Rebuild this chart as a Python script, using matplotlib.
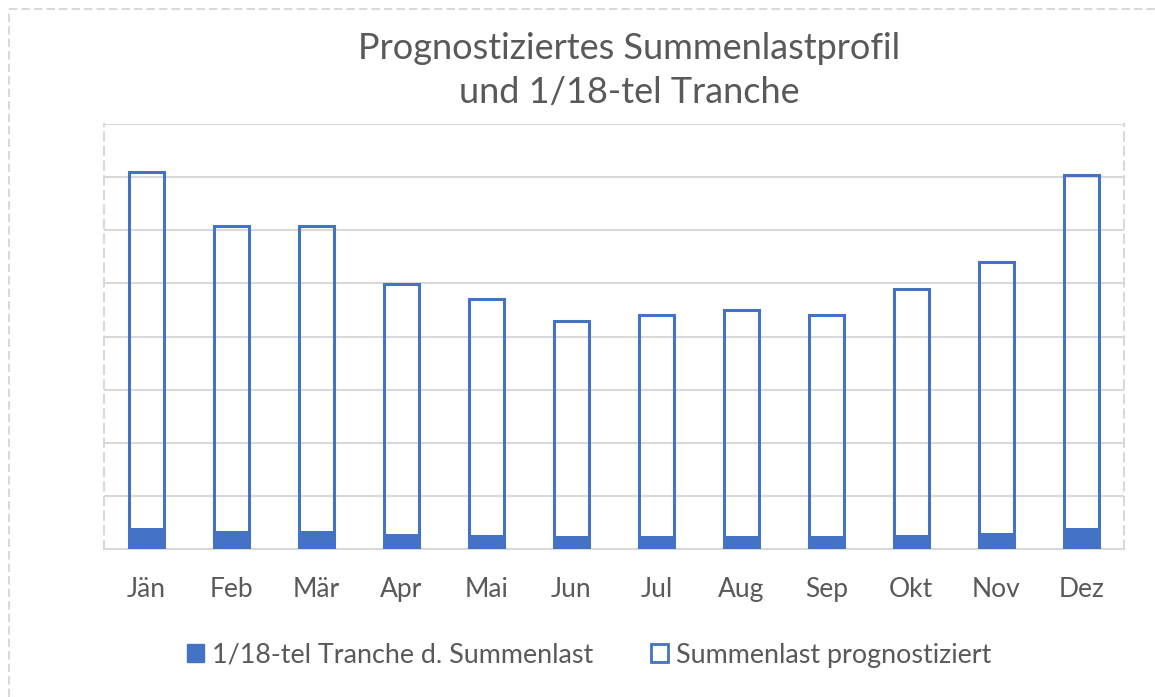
import matplotlib.pyplot as plt
from matplotlib.lines import Line2D
from matplotlib.patches import Patch

monate = ["Jän", "Feb", "Mär", "Apr", "Mai", "Jun", "Jul", "Aug", "Sep", "Okt", "Nov", "Dez"]
summenlast = [7.10, 6.08, 6.08, 4.99, 4.71, 4.29, 4.41, 4.50, 4.41, 4.90, 5.40, 7.04]
tranche = [0.39, 0.34, 0.34, 0.28, 0.26, 0.24, 0.25, 0.25, 0.25, 0.27, 0.30, 0.39]

blau = "#4472c4"
grau = "#595959"
plt.rcParams["font.family"] = ["Lato", "DejaVu Sans"]

fig = plt.figure(figsize=(11.55, 6.97), dpi=100)
ax = fig.add_axes([0.090, 0.2123, 0.883, 0.6097])

x = range(len(monate))
ax.bar(x, tranche, width=0.41, color=blau, zorder=3)
ax.bar(x, summenlast, width=0.41, facecolor="none", edgecolor=blau, linewidth=2.2, zorder=4)

ax.set_xlim(-0.5, 11.5)
ax.set_ylim(0, 8)
ax.set_yticks(range(1, 9))
ax.set_yticklabels([])
ax.tick_params(axis="y", length=0)
ax.tick_params(axis="x", length=0, pad=20, labelsize=19, labelcolor=grau)
ax.set_xticks(list(x))
ax.set_xticklabels(monate)
ax.grid(axis="y", color="#d9d9d9", linewidth=1.5, zorder=0)

for s in ["left", "right"]:
    ax.spines[s].set_color("#d9d9d9")
    ax.spines[s].set_linestyle((0, (4, 3)))
    ax.spines[s].set_linewidth(1.5)
ax.spines["top"].set_visible(False)
ax.spines["bottom"].set_color("#d9d9d9")
ax.spines["bottom"].set_linewidth(1.5)

fig.text(0.545, 0.899, "Prognostiziertes Summenlastprofil\nund 1/18-tel Tranche",
         ha="center", va="center", fontsize=26, color=grau, linespacing=1.4)

handles = [Patch(facecolor=blau, edgecolor=blau),
           Patch(facecolor="white", edgecolor=blau, linewidth=2)]
fig.legend(handles, ["1/18-tel Tranche d. Summenlast", "Summenlast prognostiziert"],
           loc="center", bbox_to_anchor=(0.51, 0.06), ncol=2, frameon=False,
           fontsize=19.4, labelcolor=grau, handlelength=0.63, handleheight=0.63,
           columnspacing=2.15, handletextpad=0.3)

# Rahmen links und oben
fig.add_artist(Line2D([0.008, 0.008], [0, 0.987], color="#d9d9d9", linestyle=(0, (4, 2)), linewidth=1.5))
fig.add_artist(Line2D([0.008, 1], [0.987, 0.987], color="#d9d9d9", linestyle=(0, (4, 2)), linewidth=1.5))

fig.savefig("out.png", dpi=100)
